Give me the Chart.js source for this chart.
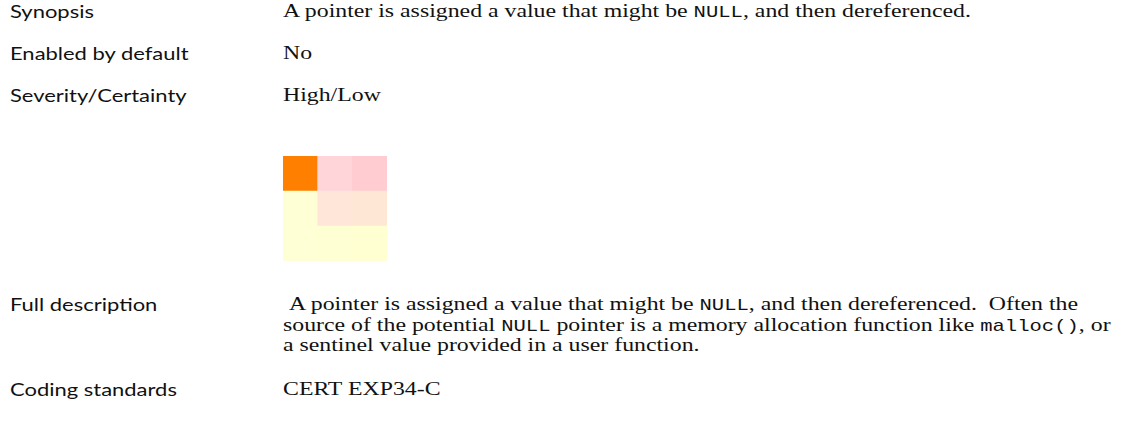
<!DOCTYPE html>
<html>
<head>
<meta charset="utf-8">
<script src="https://cdn.jsdelivr.net/npm/chart.js@4.4.1/dist/chart.umd.min.js"></script>
<style>
  body { margin: 0; background: #fff; width: 1123px; height: 438px; position: relative; overflow: hidden; }
  .lbl { position: absolute; left: 10px; font-family: Lato, "Open Sans", sans-serif; font-size: 18px; line-height: 21px; color: #111; transform: scaleX(1.22); transform-origin: 0 0; }
  .val { position: absolute; left: 283px; font-family: "Liberation Serif", "Times New Roman", serif; font-size: 19px; color: #111; line-height: 20.7px; white-space: nowrap; transform: scaleX(1.253); transform-origin: 0 0; }
  code { font-family: "Liberation Mono", "Courier New", monospace; font-size: 16.4px; line-height: 0; }
  #box { position: absolute; left: 283px; top: 156px; width: 104px; height: 105px; }
</style>
</head>
<body>
<div class="lbl" style="top:1px">Synopsis</div>
<div class="val" style="top:1px">A pointer is assigned a value that might be <code>NULL</code>, and then dereferenced.</div>

<div class="lbl" style="top:43px">Enabled by default</div>
<div class="val" style="top:43px">No</div>

<div class="lbl" style="top:85px">Severity/Certainty</div>
<div class="val" style="top:85px">High/Low</div>
<div id="box"><canvas id="myChart"></canvas></div>

<div class="lbl" style="top:294px">Full description</div>
<div class="val" style="top:294px">&nbsp;A pointer is assigned a value that might be <code>NULL</code>, and then dereferenced.&nbsp; Often the<br>source of the potential <code>NULL</code> pointer is a memory allocation function like <code>malloc()</code>, or<br>a sentinel value provided in a user function.</div>

<div class="lbl" style="top:379px">Coding standards</div>
<div class="val" style="top:379px">CERT EXP34-C</div>

<script>
// severity/certainty matrix: columns = certainty, rows = severity (top row first)
var certainty = ['Low', 'Medium', 'High']
var severity = ['High', 'Medium', 'Low']
var cellSize = [1, 1, 1]
// colour of each cell, row by row
var rowHigh = ['#ff8000', '#ffd5d9', '#ffcdd1']
var rowMedium = ['#ffffd6', '#ffe6d9', '#ffe7d6']
var rowLow = ['#ffffd6', '#ffffd4', '#ffffd2']

var ctx = document.getElementById('myChart').getContext('2d')

// stacked from the bottom, so the low row goes first
var rows = [rowLow, rowMedium, rowHigh]
var myChart = new Chart(ctx, {
    type: 'bar',
    data: {
        labels: certainty,
        datasets: rows.map((cols, i) => ({
            label: severity[2 - i],
            data: cellSize,
            backgroundColor: cols,
            borderWidth: 0,
            barPercentage: 1,
            categoryPercentage: 1
        }))
    },
    options: {
        responsive: true,
        maintainAspectRatio: false,
        animation: false,
        layout: { padding: 0 },
        plugins: { legend: { display: false }, tooltip: { enabled: false } },
        scales: {
            x: { stacked: true, display: false },
            y: { stacked: true, display: false, min: 0, max: 3 }
        }
    }
})
</script>
</body>
</html>
